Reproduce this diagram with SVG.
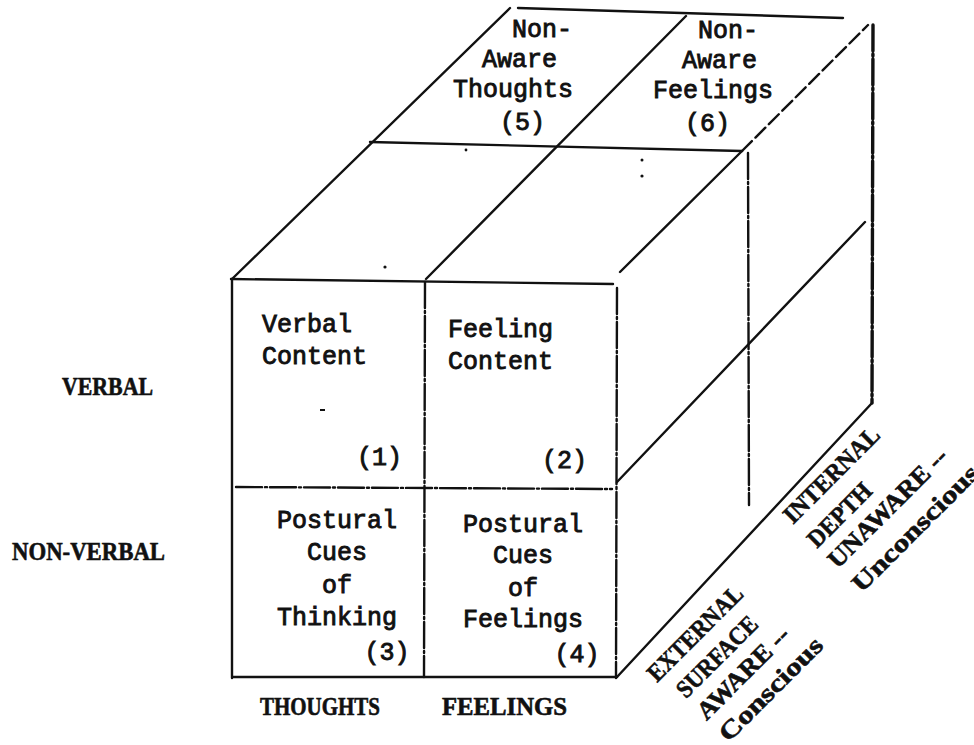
<svg xmlns="http://www.w3.org/2000/svg" width="974" height="745" viewBox="0 0 974 745">
<style>
.ln{stroke:#111;stroke-width:2.4;fill:none;stroke-linecap:round}
.th{stroke-width:3.4}
.ds{stroke-dasharray:26 3 2 3}
.dsh{stroke-dasharray:14 5}
.tw{font-family:"Liberation Mono","Courier New",monospace;font-size:25px;fill:#111;stroke:#111;stroke-width:0.9}
.ax{font-family:"Liberation Serif","DejaVu Serif",serif;font-weight:bold;font-size:25px;fill:#111;stroke:#111;stroke-width:0.6}
.dot{fill:#111}
</style>
<rect width="974" height="745" fill="#fff"/>
<g id="connectors">
  <line class="ln" x1="231" y1="279" x2="613" y2="284"/>
  <line class="ln" x1="232" y1="279" x2="232" y2="678"/>
  <line class="ln ds" x1="425" y1="282" x2="424" y2="677"/>
  <line class="ln ds" x1="617" y1="288" x2="616" y2="678"/>
  <line class="ln ds" x1="236" y1="487" x2="612" y2="489"/>
  <line class="ln" x1="233" y1="677" x2="617" y2="677"/>
  <line class="ln" x1="232" y1="279" x2="510" y2="8"/>
  <line class="ln" x1="518" y1="8" x2="843" y2="18"/>
  <line class="ln" x1="426" y1="279" x2="686" y2="16"/>
  <line class="ln" x1="370" y1="142" x2="742" y2="151"/>
  <line class="ln" x1="620" y1="272" x2="742" y2="151"/>
  <line class="ln dsh" x1="742" y1="151" x2="868" y2="25"/>
  <line class="ln th ds" x1="873" y1="25" x2="872" y2="403"/>
  <line class="ln" x1="617" y1="677" x2="872" y2="403"/>
  <line class="ln" x1="617" y1="482" x2="865" y2="222"/>
  <line class="ln ds" x1="748" y1="153" x2="749" y2="505"/>
</g>
<g id="specks">
  <circle class="dot" cx="385" cy="267" r="1.6"/>
  <circle class="dot" cx="466" cy="150" r="1.4"/>
  <circle class="dot" cx="642" cy="160" r="1.5"/>
  <circle class="dot" cx="642" cy="176" r="1.6"/>
  <rect class="dot" x="320" y="409" width="5" height="2"/>
</g>
<g id="cell1">
  <text class="tw" x="262" y="332">Verbal</text>
  <text class="tw" x="262" y="364">Content</text>
  <text class="tw" x="357" y="465">(1)</text>
</g>
<g id="cell2">
  <text class="tw" x="448" y="337">Feeling</text>
  <text class="tw" x="448" y="369">Content</text>
  <text class="tw" x="542" y="468">(2)</text>
</g>
<g id="cell3" text-anchor="middle">
  <text class="tw" x="337" y="528">Postural</text>
  <text class="tw" x="337" y="560">Cues</text>
  <text class="tw" x="337" y="593">of</text>
  <text class="tw" x="337" y="625">Thinking</text>
  <text class="tw" x="387" y="660">(3)</text>
</g>
<g id="cell4" text-anchor="middle">
  <text class="tw" x="523" y="532">Postural</text>
  <text class="tw" x="523" y="563">Cues</text>
  <text class="tw" x="523" y="596">of</text>
  <text class="tw" x="523" y="627">Feelings</text>
  <text class="tw" x="577" y="662">(4)</text>
</g>
<g id="cell5">
  <text class="tw" x="512" y="37">Non-</text>
  <text class="tw" x="482" y="67">Aware</text>
  <text class="tw" x="453" y="97">Thoughts</text>
  <text class="tw" x="500" y="130">(5)</text>
</g>
<g id="cell6">
  <text class="tw" x="698" y="38">Non-</text>
  <text class="tw" x="682" y="68">Aware</text>
  <text class="tw" x="653" y="98">Feelings</text>
  <text class="tw" x="685" y="131">(6)</text>
</g>
<g id="row-labels">
  <text class="ax" x="62" y="395" textLength="91" lengthAdjust="spacingAndGlyphs">VERBAL</text>
  <text class="ax" x="12" y="560" textLength="153" lengthAdjust="spacingAndGlyphs">NON-VERBAL</text>
</g>
<g id="col-labels">
  <text class="ax" x="260" y="715" textLength="120" lengthAdjust="spacingAndGlyphs">THOUGHTS</text>
  <text class="ax" x="442" y="715" textLength="125" lengthAdjust="spacingAndGlyphs">FEELINGS</text>
</g>
<g id="depth-external" transform="translate(657,683) rotate(-45)">
  <text class="ax" x="0" y="0" textLength="124" lengthAdjust="spacingAndGlyphs">EXTERNAL</text>
  <text class="ax" x="9" y="32" textLength="104" lengthAdjust="spacingAndGlyphs">SURFACE</text>
  <text class="ax" x="8" y="62" textLength="120" lengthAdjust="spacingAndGlyphs">AWARE --</text>
  <text class="ax" x="8" y="93" textLength="136" lengthAdjust="spacingAndGlyphs">Conscious</text>
</g>
<g id="depth-internal" transform="translate(793,525) rotate(-45)">
  <text class="ax" x="0" y="0" textLength="125" lengthAdjust="spacingAndGlyphs">INTERNAL</text>
  <text class="ax" x="0" y="34" textLength="80" lengthAdjust="spacingAndGlyphs">DEPTH</text>
  <text class="ax" x="0" y="63" textLength="158" lengthAdjust="spacingAndGlyphs">UNAWARE --</text>
  <text class="ax" x="0" y="97" textLength="168" lengthAdjust="spacingAndGlyphs">Unconscious</text>
</g>
</svg>
